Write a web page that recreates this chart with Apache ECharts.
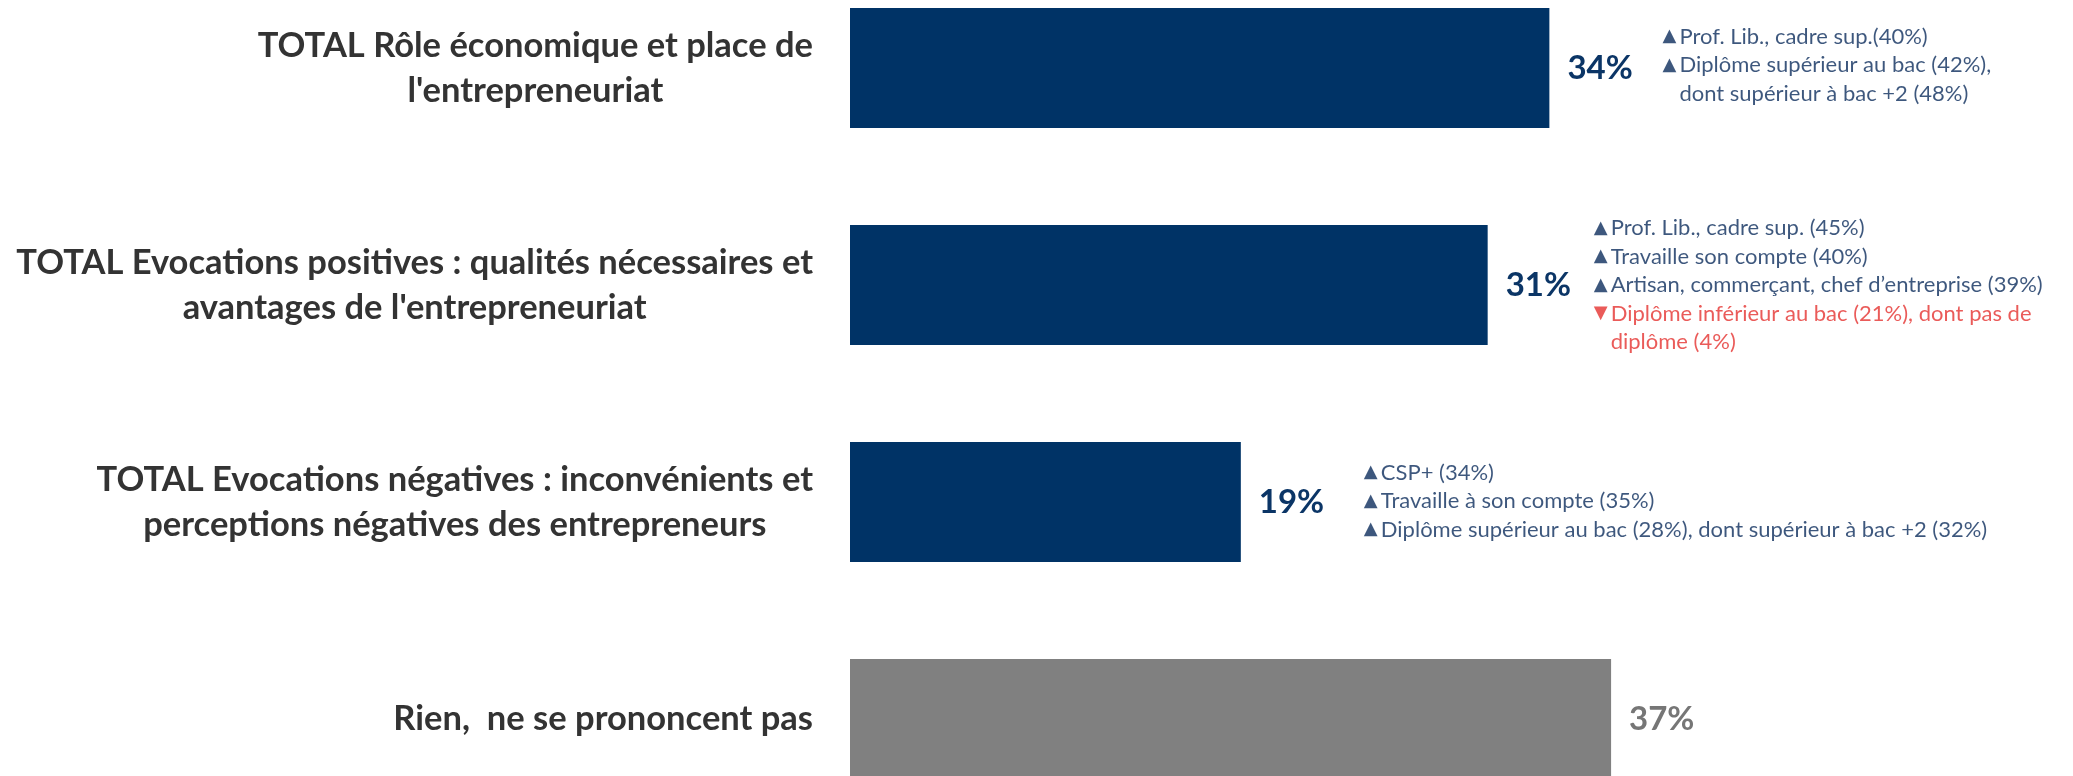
<!DOCTYPE html>
<html>
<head>
<meta charset="utf-8">
<script src="https://cdn.jsdelivr.net/npm/echarts@6/dist/echarts.min.js"></script>
<style>
  html, body { margin: 0; padding: 0; background: #ffffff; }
  #chart { width: 2073px; height: 776px; }
</style>
</head>
<body>
<div id="chart"></div>
<script>
// Category labels (line breaks as printed)
const categories = [
  "TOTAL Rôle économique et place de\nl'entrepreneuriat",
  "TOTAL Evocations positives : qualités nécessaires et\navantages de l'entrepreneuriat",
  "TOTAL Evocations négatives : inconvénients et\nperceptions négatives des entrepreneurs",
  "Rien,  ne se prononcent pas"
];

// Share of respondents, in %
const values = [34, 31, 19, 37];

// Row kind: themed totals vs. no answer
const rowKinds = ['total', 'total', 'total', 'none'];

// Sub-group call-outs: [direction, text]; direction '' = continuation line
const callouts = [
  [
    ['up', 'Prof. Lib., cadre sup.(40%)'],
    ['up', 'Diplôme supérieur au bac (42%),'],
    ['', 'dont supérieur à bac +2 (48%)']
  ],
  [
    ['up', 'Prof. Lib., cadre sup. (45%)'],
    ['up', 'Travaille son compte (40%)'],
    ['up', 'Artisan, commerçant, chef d\u2019entreprise (39%)'],
    ['down', 'Diplôme inférieur au bac (21%), dont pas de'],
    ['downCont', 'diplôme (4%)']
  ],
  [
    ['up', 'CSP+ (34%)'],
    ['up', 'Travaille à son compte (35%)'],
    ['up', 'Diplôme supérieur au bac (28%), dont supérieur à bac +2 (32%)']
  ],
  []
];

const NAVY = '#003366';
const NAVY_TEXT = '#0b3566';
const NOTE_TEXT = '#0c2d5c';
const RED = '#e5322f';
const GREY = '#808080';
const GREY_TEXT = '#767676';
const FONT = 'Lato, "Open Sans", sans-serif';
const SYMBOL_FONT = '"DejaVu Sans", sans-serif';

// Call-out block placement relative to the bar end, per row: [dx, dy]
const calloutShift = [[113, -3], [106, 0], [123, -1], [110, 0]];

const barData = values.map((v, i) => {
  const none = rowKinds[i] === 'none';
  return {
    value: v,
    itemStyle: { color: none ? GREY : NAVY },
    label: { color: none ? GREY_TEXT : NAVY_TEXT }
  };
});

const calloutData = values.map((v, i) => ({
  value: [v, i],
  label: { offset: calloutShift[i] }
}));

function calloutText(lines) {
  return lines.map(([dir, text]) => {
    if (dir === 'up') return '{up|\u25B2}{t|' + text + '}';
    if (dir === 'down') return '{dn|\u25BC}{r|' + text + '}';
    if (dir === 'downCont') return '{sp|}{r|' + text + '}';
    return '{sp|}{t|' + text + '}';
  }).join('\n');
}

const LINE_H = 28.5;
const chart = echarts.init(document.getElementById('chart'));
chart.setOption({
  animation: false,
  backgroundColor: '#ffffff',
  grid: {
    left: 850, top: -40.5, width: 1028.5, height: 868,
    containLabel: false,
    outerBoundsMode: 'none'
  },
  xAxis: {
    type: 'value', min: 0, max: 50, show: false
  },
  yAxis: {
    type: 'category',
    inverse: true,
    data: categories,
    axisLine: { show: false },
    axisTick: { show: false },
    splitLine: { show: false },
    axisLabel: {
      margin: 37,
      align: 'right',
      hideOverlap: false,
      formatter: (val) => val.split('\n').map(l => '{c|' + l + '}').join('\n'),
      rich: {
        c: {
          align: 'center',
          fontFamily: FONT,
          fontWeight: 'bold',
          fontSize: 34.5,
          lineHeight: 45,
          color: '#333333'
        }
      }
    }
  },
  series: [
    {
      type: 'bar',
      data: barData,
      barWidth: 120,
      label: {
        show: true,
        position: 'right',
        distance: 18,
        formatter: '{c}%',
        fontFamily: FONT,
        fontWeight: 'bold',
        fontSize: 33
      },
      silent: true
    },
    {
      type: 'scatter',
      data: calloutData,
      symbolSize: 0,
      silent: true,
      label: {
        show: true,
        position: 'right',
        distance: 0,
        align: 'left',
        formatter: (p) => calloutText(callouts[p.dataIndex]),
        rich: {
          up: { fontFamily: SYMBOL_FONT, fontSize: 18, color: NOTE_TEXT, width: 17, lineHeight: LINE_H },
          dn: { fontFamily: SYMBOL_FONT, fontSize: 18, color: RED, width: 17, lineHeight: LINE_H },
          sp: { width: 17, lineHeight: LINE_H },
          t: { fontFamily: FONT, fontSize: 22, color: NOTE_TEXT, lineHeight: LINE_H },
          r: { fontFamily: FONT, fontSize: 22, color: RED, lineHeight: LINE_H }
        }
      }
    }
  ]
});
</script>
</body>
</html>
